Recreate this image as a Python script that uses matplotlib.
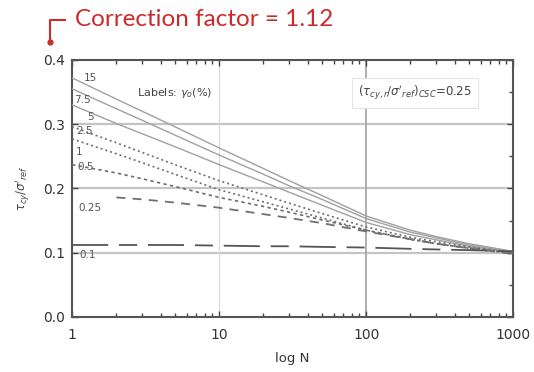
import numpy as np
import matplotlib
matplotlib.use("Agg")
import matplotlib.pyplot as plt
from matplotlib.lines import Line2D
from matplotlib.ticker import FixedLocator, NullFormatter

# cycle numbers and stress ratio curves
n_cycles = [1, 2, 3, 5, 10, 20, 30, 50, 100, 200, 300, 500, 1000]
curve_15 = [0.372, 0.339, 0.320, 0.296, 0.263, 0.231, 0.212, 0.189, 0.157, 0.135, 0.125, 0.114, 0.102]
curve_7_5 = [0.355, 0.324, 0.306, 0.283, 0.252, 0.222, 0.204, 0.183, 0.153, 0.132, 0.123, 0.112, 0.101]
curve_5 = [0.330, 0.301, 0.285, 0.265, 0.237, 0.210, 0.194, 0.174, 0.147, 0.128, 0.120, 0.110, 0.100]
curve_2_5 = [0.296, 0.271, 0.256, 0.237, 0.212, 0.190, 0.177, 0.161, 0.140, 0.124, 0.117, 0.109, 0.100]
curve_1 = [0.277, 0.254, 0.240, 0.222, 0.198, 0.179, 0.168, 0.154, 0.135, 0.121, 0.114, 0.107, 0.099]
curve_0_5 = [0.237, 0.224, 0.215, 0.203, 0.186, 0.172, 0.163, 0.151, 0.135, 0.121, 0.114, 0.107, 0.099]
curve_0_25 = [0.188, 0.186, 0.183, 0.178, 0.170, 0.160, 0.154, 0.146, 0.133, 0.121, 0.114, 0.107, 0.098]
curve_0_1 = [0.112, 0.112, 0.112, 0.112, 0.111, 0.110, 0.110, 0.109, 0.108, 0.106, 0.105, 0.104, 0.102]

curve_labels = ["15", "7.5", "5", "2.5", "1", "0.5", "0.25", "0.1"]
# where each label sits (N, ratio)
label_pos = [(1.2, 0.372), (1.04, 0.337), (1.27, 0.311), (1.06, 0.290),
             (1.06, 0.257), (1.08, 0.233), (1.10, 0.170), (1.12, 0.097)]

x_ticks = [1, 10, 100, 1000]
x_ticklabels = ["1", "10", "100", "1000"]
y_ticks = [0.0, 0.1, 0.2, 0.3, 0.4]

fig = plt.figure(figsize=(5.34, 3.72), dpi=100)
ax = fig.add_axes([0.135, 0.148, 0.826, 0.691])

# grid lines
for yv in [0.1, 0.2, 0.3]:
    ax.axhline(yv, color="#c4c4c4", lw=1.6, zorder=1)
ax.axvline(10, color="#d8d8d8", lw=0.8, zorder=1)
ax.axvline(100, color="#a8a8a8", lw=1.3, zorder=1)

ax.plot(n_cycles, curve_15, color="#a0a0a0", lw=1.0, zorder=3)
ax.plot(n_cycles, curve_7_5, color="#a0a0a0", lw=1.0, zorder=3)
ax.plot(n_cycles, curve_5, color="#a0a0a0", lw=1.0, zorder=3)
ax.plot(n_cycles, curve_2_5, color="#6e6e6e", lw=1.2, ls=(0, (1.2, 1.8)), zorder=3)
ax.plot(n_cycles, curve_1, color="#6e6e6e", lw=1.2, ls=(0, (1.2, 1.8)), zorder=3)
ax.plot(n_cycles, curve_0_5, color="#6e6e6e", lw=1.2, ls=(0, (2.0, 2.0)), zorder=3)
ax.plot(n_cycles[1:], curve_0_25[1:], color="#707070", lw=1.3, ls=(0, (5, 4)), zorder=3)
ax.plot(n_cycles, curve_0_1, color="#555555", lw=1.3, ls=(0, (20, 6, 10, 6)), zorder=3)

for txt, (xp, yp) in zip(curve_labels, label_pos):
    ax.text(xp, yp, txt, fontsize=7.5, color="#555555", ha="left", va="center", zorder=4)

ax.text(2.75, 0.349, r"Labels: $\gamma_{o}$(%)", fontsize=8, color="#444444",
        ha="left", va="center")
ax.text(215, 0.349, r"$(\tau_{cy,r}/\sigma'_{ref})_{CSC}$=0.25", fontsize=8.5,
        color="#444444", ha="center", va="center",
        bbox=dict(boxstyle="square,pad=0.5", fc="white", ec="#e4e4e4", lw=0.8))

ax.set_xscale("log")
ax.set_xlim(1, 1000)
ax.set_ylim(0, 0.4)
ax.set_xticks(x_ticks)
ax.set_xticklabels(x_ticklabels)
ax.set_yticks(y_ticks)
ax.set_yticklabels([f"{v:.1f}" for v in y_ticks])
ax.yaxis.set_minor_locator(FixedLocator(np.arange(0.05, 0.4, 0.1)))
ax.yaxis.set_minor_formatter(NullFormatter())

ax.tick_params(which="both", direction="in", top=True, right=True,
               colors="#444444", labelsize=10, labelcolor="#333333", pad=5)
ax.tick_params(axis="x", which="both", pad=8)
ax.tick_params(which="major", length=4, width=1.0)
ax.tick_params(which="minor", length=3, width=1.0)
ax.tick_params(axis="y", which="minor", left=False, right=True)
for s in ax.spines.values():
    s.set_color("#555555")
    s.set_linewidth(1.5)

ax.set_xlabel("log N", fontsize=9.5, color="#333333", labelpad=7)
ax.set_ylabel(r"$\tau_{cy}/\sigma'_{ref}$", fontsize=8.5, color="#444444", labelpad=8)

# red note above the chart
red = "#cc2b2b"
fig.text(75 / 534, 1 - 20 / 372, "Correction factor = 1.12", color=red,
         fontsize=17.5, family="Lato", ha="left", va="center")
fig.add_artist(Line2D([65 / 534, 50 / 534, 50 / 534],
                      [1 - 20 / 372, 1 - 20 / 372, 1 - 41 / 372],
                      transform=fig.transFigure, color=red, lw=1.5))
fig.add_artist(Line2D([50 / 534], [1 - 42 / 372], transform=fig.transFigure,
                      color=red, marker="o", markersize=3.5, lw=0))

fig.savefig("out.png", dpi=100)
